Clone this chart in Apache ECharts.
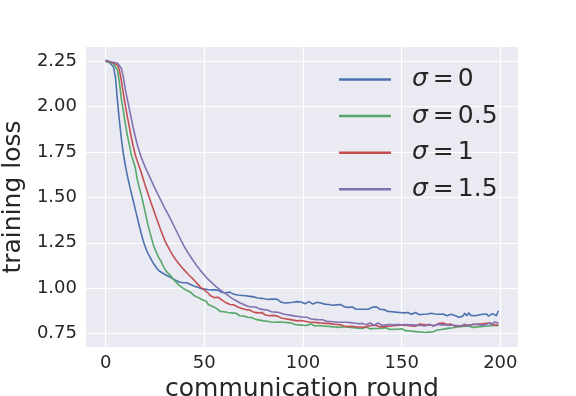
<!DOCTYPE html>
<html>
<head>
<meta charset="utf-8">
<script src="https://cdn.jsdelivr.net/npm/echarts@6/dist/echarts.min.js"></script>
<style>
  html, body { margin: 0; padding: 0; background: #fff; }
  #chart { width: 576px; height: 396px; }
</style>
</head>
<body>
<div id="chart"></div>
<script>
  // communication rounds 0..199
  const rounds = Array.from({ length: 200 }, (_, i) => i);
  const sigmaLabels = ['0', '0.5', '1', '1.5'];
  const xTicks = [0, 50, 100, 150, 200];
  const yTicks = [0.75, 1.0, 1.25, 1.5, 1.75, 2.0, 2.25];

  const lossSigma0 = [
    2.250, 2.247, 2.243, 2.236, 2.218, 2.160, 2.030, 1.920, 1.820, 1.740,
    1.675, 1.620, 1.570, 1.525, 1.480, 1.435, 1.390, 1.345, 1.302, 1.262,
    1.230, 1.202, 1.180, 1.160, 1.140, 1.125, 1.108, 1.096, 1.092, 1.082,
    1.075, 1.070, 1.062, 1.058, 1.050, 1.046, 1.040, 1.035, 1.032, 1.030,
    1.028, 1.030, 1.024, 1.020, 1.016, 1.010, 1.012, 1.004, 1.000, 0.996,
    0.998, 0.994, 0.992, 0.990, 0.988, 0.992, 0.985, 0.988, 0.982, 0.976,
    0.980, 0.975, 0.972, 0.978, 0.968, 0.966, 0.970, 0.962, 0.965, 0.960,
    0.963, 0.958, 0.960, 0.955, 0.962, 0.952, 0.950, 0.946, 0.950, 0.944,
    0.948, 0.940, 0.945, 0.938, 0.936, 0.940, 0.934, 0.938, 0.930, 0.922,
    0.915, 0.918, 0.925, 0.920, 0.916, 0.922, 0.918, 0.926, 0.920, 0.924,
    0.922, 0.914, 0.918, 0.926, 0.920, 0.912, 0.916, 0.922, 0.915, 0.918,
    0.924, 0.912, 0.918, 0.910, 0.915, 0.906, 0.912, 0.908, 0.904, 0.910,
    0.904, 0.898, 0.902, 0.894, 0.890, 0.896, 0.888, 0.884, 0.890, 0.884,
    0.880, 0.884, 0.878, 0.884, 0.890, 0.894, 0.886, 0.898, 0.902, 0.884,
    0.892, 0.882, 0.878, 0.872, 0.868, 0.870, 0.864, 0.868, 0.860, 0.866,
    0.860, 0.864, 0.858, 0.866, 0.860, 0.856, 0.862, 0.866, 0.858, 0.854,
    0.860, 0.856, 0.852, 0.858, 0.856, 0.862, 0.854, 0.858, 0.852, 0.856,
    0.850, 0.858, 0.854, 0.848, 0.852, 0.856, 0.846, 0.850, 0.844, 0.840,
    0.838, 0.846, 0.862, 0.848, 0.864, 0.850, 0.856, 0.848, 0.858, 0.852,
    0.846, 0.856, 0.850, 0.858, 0.846, 0.852, 0.860, 0.868, 0.848, 0.876
  ];

  const lossSigma05 = [
    2.250, 2.246, 2.242, 2.240, 2.236, 2.228, 2.200, 2.130, 2.040, 1.975,
    1.905, 1.840, 1.790, 1.735, 1.700, 1.665, 1.600, 1.555, 1.515, 1.470,
    1.420, 1.370, 1.325, 1.285, 1.245, 1.215, 1.190, 1.165, 1.150, 1.125,
    1.105, 1.090, 1.080, 1.068, 1.052, 1.044, 1.030, 1.018, 1.010, 1.002,
    0.995, 0.988, 0.984, 0.978, 0.970, 0.958, 0.950, 0.948, 0.940, 0.936,
    0.932, 0.928, 0.910, 0.905, 0.900, 0.902, 0.890, 0.880, 0.872, 0.876,
    0.870, 0.868, 0.866, 0.870, 0.864, 0.860, 0.862, 0.852, 0.848, 0.842,
    0.846, 0.838, 0.840, 0.834, 0.838, 0.830, 0.828, 0.832, 0.824, 0.826,
    0.820, 0.826, 0.818, 0.822, 0.814, 0.818, 0.812, 0.820, 0.814, 0.808,
    0.812, 0.806, 0.810, 0.802, 0.808, 0.804, 0.800, 0.806, 0.798, 0.800,
    0.796, 0.800, 0.794, 0.798, 0.804, 0.796, 0.792, 0.798, 0.794, 0.800,
    0.792, 0.796, 0.790, 0.794, 0.788, 0.792, 0.786, 0.790, 0.784, 0.790,
    0.786, 0.782, 0.788, 0.780, 0.784, 0.790, 0.782, 0.786, 0.780, 0.784,
    0.778, 0.782, 0.786, 0.780, 0.776, 0.782, 0.778, 0.784, 0.778, 0.774,
    0.780, 0.776, 0.782, 0.776, 0.772, 0.778, 0.774, 0.780, 0.774, 0.770,
    0.776, 0.772, 0.766, 0.770, 0.764, 0.768, 0.762, 0.766, 0.760, 0.764,
    0.758, 0.762, 0.756, 0.760, 0.758, 0.764, 0.760, 0.766, 0.770, 0.764,
    0.772, 0.768, 0.776, 0.772, 0.780, 0.776, 0.782, 0.778, 0.786, 0.782,
    0.788, 0.784, 0.790, 0.786, 0.792, 0.788, 0.784, 0.790, 0.786, 0.792,
    0.788, 0.794, 0.790, 0.786, 0.792, 0.788, 0.794, 0.790, 0.796, 0.792
  ];

  const lossSigma1 = [
    2.252, 2.248, 2.245, 2.242, 2.240, 2.236, 2.228, 2.200, 2.140, 2.070,
    2.005, 1.945, 1.890, 1.830, 1.780, 1.735, 1.700, 1.670, 1.638, 1.603,
    1.568, 1.535, 1.502, 1.470, 1.440, 1.408, 1.378, 1.348, 1.318, 1.290,
    1.262, 1.240, 1.220, 1.200, 1.182, 1.165, 1.150, 1.136, 1.122, 1.110,
    1.098, 1.086, 1.074, 1.064, 1.054, 1.042, 1.030, 1.018, 1.006, 0.996,
    0.990, 0.984, 0.972, 0.960, 0.952, 0.948, 0.944, 0.950, 0.940, 0.934,
    0.930, 0.920, 0.916, 0.910, 0.906, 0.908, 0.900, 0.896, 0.892, 0.888,
    0.890, 0.882, 0.876, 0.880, 0.872, 0.868, 0.872, 0.864, 0.862, 0.866,
    0.856, 0.852, 0.856, 0.848, 0.846, 0.850, 0.842, 0.846, 0.840, 0.836,
    0.840, 0.832, 0.836, 0.828, 0.832, 0.824, 0.828, 0.820, 0.818, 0.822,
    0.814, 0.818, 0.810, 0.814, 0.808, 0.812, 0.806, 0.810, 0.804, 0.808,
    0.802, 0.806, 0.800, 0.806, 0.798, 0.802, 0.796, 0.800, 0.794, 0.798,
    0.796, 0.790, 0.796, 0.788, 0.794, 0.790, 0.798, 0.786, 0.792, 0.786,
    0.790, 0.784, 0.786, 0.792, 0.786, 0.794, 0.788, 0.796, 0.790, 0.786,
    0.794, 0.788, 0.796, 0.790, 0.798, 0.792, 0.786, 0.794, 0.788, 0.796,
    0.790, 0.796, 0.788, 0.794, 0.800, 0.792, 0.798, 0.790, 0.796, 0.802,
    0.794, 0.800, 0.792, 0.798, 0.790, 0.796, 0.802, 0.794, 0.800, 0.806,
    0.798, 0.808, 0.814, 0.800, 0.794, 0.802, 0.796, 0.790, 0.798, 0.792,
    0.800, 0.794, 0.802, 0.796, 0.790, 0.798, 0.792, 0.800, 0.794, 0.802,
    0.796, 0.804, 0.798, 0.806, 0.800, 0.808, 0.802, 0.796, 0.806, 0.800
  ];

  const lossSigma15 = [
    2.256, 2.252, 2.248, 2.246, 2.244, 2.242, 2.240, 2.232, 2.210, 2.160,
    2.095, 2.040, 1.988, 1.935, 1.882, 1.835, 1.792, 1.755, 1.722, 1.694,
    1.668, 1.644, 1.620, 1.596, 1.573, 1.550, 1.527, 1.505, 1.483, 1.461,
    1.440, 1.420, 1.400, 1.378, 1.356, 1.334, 1.312, 1.290, 1.268, 1.246,
    1.226, 1.208, 1.190, 1.174, 1.158, 1.142, 1.126, 1.112, 1.098, 1.085,
    1.072, 1.060, 1.048, 1.038, 1.028, 1.018, 1.008, 0.998, 0.990, 0.982,
    0.975, 0.968, 0.960, 0.952, 0.944, 0.938, 0.932, 0.926, 0.920, 0.916,
    0.910, 0.904, 0.900, 0.902, 0.896, 0.892, 0.896, 0.888, 0.886, 0.890,
    0.882, 0.878, 0.880, 0.874, 0.870, 0.876, 0.868, 0.864, 0.866, 0.860,
    0.858, 0.862, 0.854, 0.856, 0.850, 0.852, 0.846, 0.850, 0.844, 0.848,
    0.840, 0.836, 0.840, 0.834, 0.830, 0.834, 0.828, 0.832, 0.826, 0.822,
    0.826, 0.822, 0.818, 0.822, 0.816, 0.820, 0.814, 0.818, 0.812, 0.816,
    0.812, 0.808, 0.812, 0.806, 0.810, 0.804, 0.808, 0.812, 0.804, 0.800,
    0.806, 0.802, 0.798, 0.804, 0.808, 0.800, 0.796, 0.802, 0.808, 0.800,
    0.796, 0.804, 0.798, 0.794, 0.800, 0.806, 0.798, 0.794, 0.800, 0.804,
    0.798, 0.794, 0.800, 0.806, 0.798, 0.792, 0.798, 0.804, 0.796, 0.800,
    0.794, 0.798, 0.792, 0.798, 0.802, 0.796, 0.790, 0.796, 0.802, 0.794,
    0.798, 0.792, 0.798, 0.802, 0.796, 0.790, 0.796, 0.800, 0.794, 0.798,
    0.792, 0.798, 0.802, 0.796, 0.792, 0.798, 0.802, 0.796, 0.800, 0.804,
    0.798, 0.802, 0.796, 0.800, 0.806, 0.798, 0.802, 0.814, 0.804, 0.808
  ];

  const seriesValues = [lossSigma0, lossSigma05, lossSigma1, lossSigma15];
  const colors = ['#4C72B0', '#55A868', '#C44E52', '#8172B2'];
  const textColor = '#262626';
  const fontFamily = 'DejaVu Sans';

  const chart = echarts.init(document.getElementById('chart'), null, { renderer: 'canvas' });

  chart.setOption({
    animation: false,
    backgroundColor: '#ffffff',
    textStyle: { fontFamily: fontFamily },
    grid: {
      left: 86,
      right: 58,
      top: 47,
      bottom: 49,
      outerBoundsMode: 'none',
      containLabel: false,
      show: true,
      backgroundColor: '#EAEAF2',
      borderWidth: 0,
    },
    legend: {
      orient: 'vertical',
      left: 339,
      top: 67,
      padding: 0,
      icon: 'rect',
      itemWidth: 52,
      itemHeight: 2.5,
      itemGap: 11.6,
      data: sigmaLabels.map((s) => 'σ=' + s),
      formatter: (name) => '{i|σ}{e|=}{t|' + name.slice(2) + '}',
      textStyle: {
        color: textColor,
        rich: {
          i: { fontSize: 25, fontStyle: 'italic', fontFamily: fontFamily, color: textColor, padding: [0, 0, 0, 16] },
          e: { fontSize: 25, fontFamily: fontFamily, color: textColor, padding: [0, 4, 0, 5] },
          t: { fontSize: 25, fontFamily: fontFamily, color: textColor },
        },
      },
    },
    xAxis: {
      type: 'value',
      min: -9.95,
      max: 208.95,
      name: 'communication round',
      nameLocation: 'middle',
      nameGap: 26,
      nameTextStyle: { fontSize: 25, color: textColor, fontFamily: fontFamily },
      axisLine: { show: false },
      axisTick: { show: false, customValues: xTicks },
      axisLabel: { customValues: xTicks, fontSize: 18, color: textColor, margin: 7, fontFamily: fontFamily },
      splitLine: { show: true, lineStyle: { color: '#ffffff', width: 1.2 } },
    },
    yAxis: {
      type: 'value',
      min: 0.676,
      max: 2.328,
      name: 'training loss',
      nameLocation: 'middle',
      nameGap: 55,
      nameTextStyle: { fontSize: 25, color: textColor, fontFamily: fontFamily },
      axisLine: { show: false },
      axisTick: { show: false, customValues: yTicks },
      axisLabel: {
        customValues: yTicks,
        fontSize: 18,
        color: textColor,
        margin: 9,
        fontFamily: fontFamily,
        formatter: (v) => v.toFixed(2),
      },
      splitLine: { show: true, lineStyle: { color: '#ffffff', width: 1.2 } },
    },
    series: seriesValues.map((vals, k) => ({
      name: 'σ=' + sigmaLabels[k],
      type: 'line',
      symbol: 'none',
      color: colors[k],
      lineStyle: { width: 1.6, color: colors[k] },
      data: rounds.map((r, i) => [r, vals[i]]),
    })),
  });
</script>
</body>
</html>
